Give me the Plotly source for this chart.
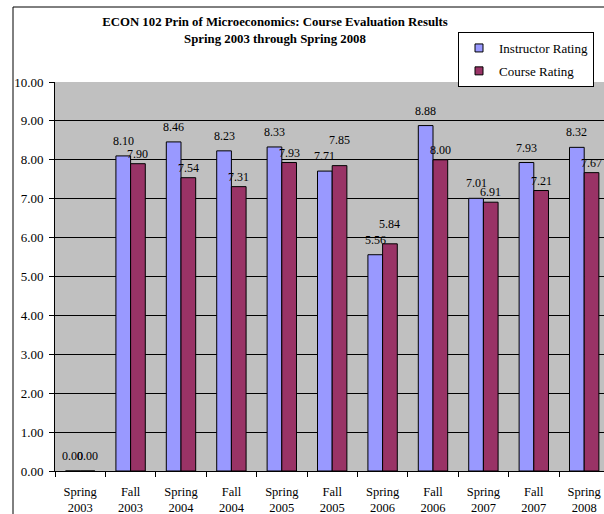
import plotly.graph_objects as go

categories = ["Spring<br>2003", "Fall<br>2003", "Spring<br>2004", "Fall<br>2004",
              "Spring<br>2005", "Fall<br>2005", "Spring<br>2006", "Fall<br>2006",
              "Spring<br>2007", "Fall<br>2007", "Spring<br>2008"]
instructor = [0.00, 8.10, 8.46, 8.23, 8.33, 7.71, 5.56, 8.88, 7.01, 7.93, 8.32]
course = [0.00, 7.90, 7.54, 7.31, 7.93, 7.85, 5.84, 8.00, 6.91, 7.21, 7.67]
series_names = ["Instructor Rating", "Course Rating"]
colors = ["#9999FF", "#993366"]

FONT = "Liberation Serif, Times New Roman, serif"
W, H = 604, 514
ML, MT, MB = 55, 82, 43
plot_h = H - MT - MB
px_per_unit = plot_h / 10
cat_px = 50.4
plot_w = W - ML
x_hi = -0.5 + plot_w / cat_px
bargap = 0.417
bar_px = cat_px * (1 - bargap) / 2

fig = go.Figure()
for name, vals, col in zip(series_names, [instructor, course], colors):
    fig.add_trace(go.Bar(
        x=categories, y=vals, name=name,
        marker=dict(color=col, line=dict(color="black", width=1)),
        showlegend=False, legendgroup=name,
    ))
    fig.add_trace(go.Scatter(
        x=[None], y=[None], mode="markers", name=name, legendgroup=name,
        marker=dict(symbol="square", size=8, color=col,
                    line=dict(color="black", width=1)),
    ))

# value labels above bars; a course label that would collide with a lower
# instructor label is lifted above it
INSTR_SHIFT, COURSE_SHIFT, MIN_SEP = 15, 10, 12
annotations = []
for c, vi, vc in zip(categories, instructor, course):
    yi = vi * px_per_unit + INSTR_SHIFT
    yc = vc * px_per_unit + COURSE_SHIFT
    if vc == vi:
        yc = yi
    elif vc > vi and abs(yc - yi) < MIN_SEP:
        yc = yi + MIN_SEP + 4
    for v, xs, ypix in [(vi, -bar_px / 2, yi), (vc, bar_px / 2, yc)]:
        annotations.append(dict(
            x=c, y=v, xref="x", yref="y", text=f"{v:.2f}", showarrow=False,
            xshift=xs, yshift=ypix - v * px_per_unit,
            yanchor="middle", xanchor="center",
            font=dict(family=FONT, size=12, color="black"),
        ))

# chart area border
x0 = (13 - ML) / plot_w
y0 = (H - MB - 7) / plot_h
fig.add_shape(type="rect", xref="paper", yref="paper",
              x0=x0, x1=1.2, y0=-0.5, y1=y0,
              line=dict(color="black", width=1), fillcolor="rgba(0,0,0,0)",
              layer="above")

fig.update_layout(
    width=W, height=H,
    margin=dict(l=ML, r=0, t=MT, b=MB),
    paper_bgcolor="white", plot_bgcolor="#C0C0C0",
    barmode="group", bargap=bargap, bargroupgap=0,
    font=dict(family=FONT, size=12, color="black"),
    title=dict(
        text="<b>ECON 102 Prin of Microeconomics: Course Evaluation Results<br>Spring 2003 through Spring 2008</b>",
        x=275 / W, xanchor="center", xref="container",
        y=1 - 26 / H, yanchor="top", yref="container",
        font=dict(family=FONT, size=12.8, color="black"),
    ),
    legend=dict(
        x=(594 - ML) / plot_w, xanchor="right",
        y=(H - MB - 32) / plot_h, yanchor="top",
        bgcolor="white", bordercolor="black", borderwidth=1,
        font=dict(family=FONT, size=13, color="black"),
        itemwidth=30, tracegroupgap=3,
    ),
    annotations=annotations,
    showlegend=True,
)
fig.update_xaxes(
    range=[-0.5, x_hi], showline=True, linecolor="black", linewidth=1,
    ticks="outside", ticklen=5, tickcolor="black", tickson="boundaries",
    ticklabelstandoff=9,
    showgrid=False, tickfont=dict(family=FONT, size=12.5), fixedrange=True,
)
fig.update_yaxes(
    range=[0, 10], dtick=1, tickformat=".2f", showline=True, linecolor="black",
    linewidth=1, ticks="outside", ticklen=5, tickcolor="black",
    ticklabelstandoff=3,
    showgrid=True, gridcolor="black", gridwidth=1, zeroline=False,
    tickfont=dict(family=FONT, size=13), fixedrange=True,
)

fig.write_html("out.html")
